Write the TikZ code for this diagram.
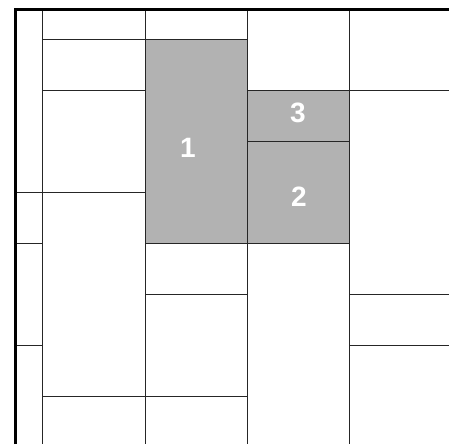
\documentclass[tikz,border=0pt]{standalone}
\usepackage{fontspec}
\setsansfont{Liberation Sans}

\begin{document}
\begin{tikzpicture}[
    x=1pt, y=-1pt,
    rule/.style={draw=black!85, line width=0.9pt},
    hot/.style={fill=black!30},
    frame/.style={draw=black, line width=3pt},
    num/.style={font=\sffamily\bfseries\fontsize{28}{28}\selectfont,
                text=white, inner sep=0pt},
]
\useasboundingbox (0,0) rectangle (449,444);
\clip (0,0) rectangle (449,444);

%% -- highlighted cells ------------------------------------------------------
\fill[hot] (145,39)  rectangle (247,243);
\fill[hot] (247,90)  rectangle (349,141);
\fill[hot] (247,141) rectangle (349,243);

%% -- column rules -----------------------------------------------------------
\foreach \cx in {42,145,247,349}
  \draw[rule] (\cx,10) -- (\cx,444);

%% -- row rules, strip by strip ----------------------------------------------
% narrow strip
\foreach \ry in {192,243,345}
  \draw[rule] (15,\ry) -- (42,\ry);
% second strip
\foreach \ry in {39,90,192,396}
  \draw[rule] (42,\ry) -- (145,\ry);
% middle strip
\foreach \ry in {39,243,294,396}
  \draw[rule] (145,\ry) -- (247,\ry);
% fourth strip
\foreach \ry in {90,141,243}
  \draw[rule] (247,\ry) -- (349,\ry);
% right strip
\foreach \ry in {90,294,345}
  \draw[rule] (349,\ry) -- (449,\ry);

%% -- outer frame ------------------------------------------------------------
\draw[frame] (15.5,444) |- (449,9.7);

%% -- cell labels ------------------------------------------------------------
\node[num] (c1) at (188,147.5) {1};
\node[num] (c3) at (298,112.5) {3};
\node[num] (c2) at (299,196.5) {2};

\end{tikzpicture}
\end{document}
